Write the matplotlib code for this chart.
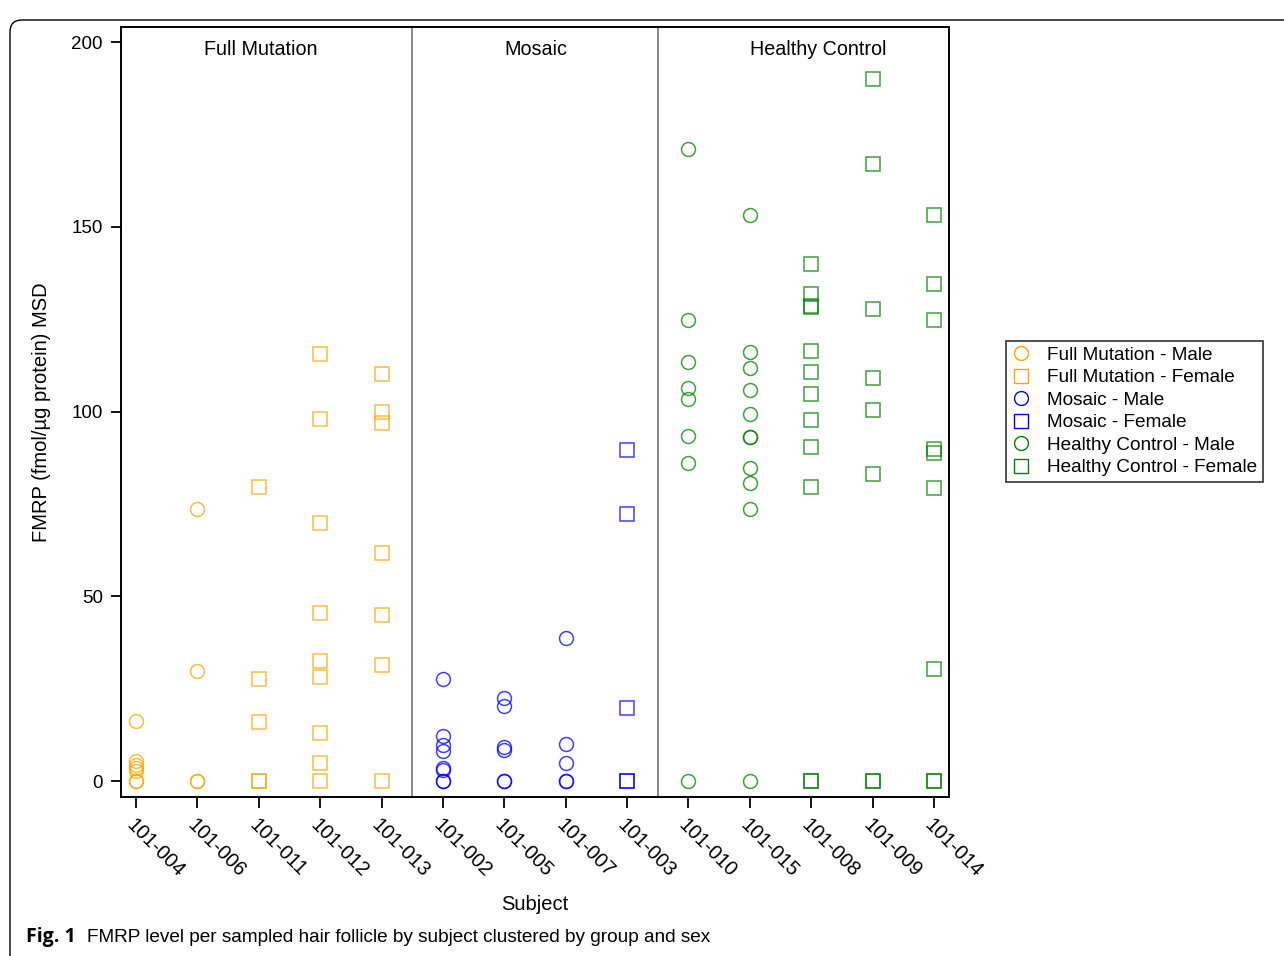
import matplotlib

matplotlib.use("Agg", force=True)
import matplotlib.pyplot as plt
from matplotlib.lines import Line2D
from matplotlib.patches import FancyBboxPatch
from matplotlib.transforms import IdentityTransform

plt.rcParams["font.family"] = ["Liberation Sans", "DejaVu Sans"]

subjects = ["101-004", "101-006", "101-011", "101-012", "101-013",
            "101-002", "101-005", "101-007", "101-003",
            "101-010", "101-015", "101-008", "101-009", "101-014"]
groups = ["Full Mutation", "Mosaic", "Healthy Control"]
group_sizes = [5, 4, 5]

# per-follicle FMRP values, keyed by subject
fm_male = {
    "101-004": [16.3, 5.4, 4.2, 3.4, 2.6, 0, 0],
    "101-006": [73.6, 29.8, 0, 0],
}
fm_female = {
    "101-011": [79.6, 27.6, 16.0, 0, 0],
    "101-012": [115.6, 98.0, 69.8, 45.6, 32.6, 28.1, 12.9, 5.0, 0],
    "101-013": [110.3, 99.8, 96.8, 61.6, 44.9, 31.3, 0],
}
mos_male = {
    "101-002": [27.7, 12.3, 9.7, 8.1, 3.6, 3.0, 0, 0],
    "101-005": [22.5, 20.3, 9.1, 8.4, 0, 0],
    "101-007": [38.6, 10.0, 4.8, 0, 0],
}
mos_female = {
    "101-003": [89.5, 72.3, 19.7, 0, 0],
}
hc_male = {
    "101-010": [171.0, 124.8, 113.5, 106.3, 103.4, 93.4, 86.1, 0],
    "101-015": [153.2, 116.2, 111.7, 105.8, 99.4, 93.2, 93.0, 84.8, 80.6, 73.5, 0],
}
hc_female = {
    "101-008": [140.0, 131.8, 128.6, 128.2, 116.5, 110.7, 104.8, 97.6, 90.3, 79.6, 0, 0],
    "101-009": [190.0, 167.0, 127.8, 109.1, 100.3, 83.1, 0, 0],
    "101-014": [153.2, 134.5, 124.9, 90.0, 88.7, 79.4, 30.3, 0, 0],
}

series = [
    ("Full Mutation - Male", fm_male, "o", "#FFA500"),
    ("Full Mutation - Female", fm_female, "s", "#FFA500"),
    ("Mosaic - Male", mos_male, "o", "#0000FF"),
    ("Mosaic - Female", mos_female, "s", "#0000FF"),
    ("Healthy Control - Male", hc_male, "o", "#008000"),
    ("Healthy Control - Female", hc_female, "s", "#008000"),
]

W, H = 1284, 956
fig = plt.figure(figsize=(W / 100, H / 100), dpi=100)
ax = fig.add_axes([121 / W, 1 - 797 / H, (949 - 121) / W, (797 - 27) / H])

handles = []
for label, data, marker, color in series:
    for subj, vals in data.items():
        x = [subjects.index(subj)] * len(vals)
        ax.plot(x, vals, linestyle="none", marker=marker, markersize=10 if marker == "o" else 10.5,
                markerfacecolor="none", markeredgecolor=color, markeredgewidth=1.1, alpha=0.75)
    handles.append(Line2D([], [], linestyle="none", marker=marker, markersize=10,
                          markerfacecolor="none", markeredgecolor=color, markeredgewidth=1.0,
                          label=label))

n = len(subjects)
ax.set_xlim(-0.244, n - 1 + 0.244)
ax.set_ylim(-4.33, 204.1)

# group dividers and labels (label placement offsets as in the original figure)
label_x = [2.03, 6.52, 11.12]
start = 0
for g, size, lx in zip(groups, group_sizes, label_x):
    ax.text(lx, 198, g, ha="center", va="center", fontsize=14.2)
    start += size
    if start < n:
        ax.axvline(start - 0.5, color="#808080", linewidth=1.3)

ax.set_xticks(range(n))
ax.set_xticklabels(subjects, rotation=-45, ha="left", va="top", rotation_mode="anchor", fontsize=14.5)
ax.tick_params(axis="x", length=8, width=1.3, pad=5)
ax.set_yticks([0, 50, 100, 150, 200])
ax.tick_params(axis="y", length=7, width=1.3, labelsize=13.5, pad=6)
for s in ax.spines.values():
    s.set_linewidth(1.4)

ax.set_ylabel("FMRP (fmol/\u00b5g protein) MSD", fontsize=14.5, labelpad=15)
fig.text(535 / W, 1 - 905 / H, "Subject", ha="center", va="center", fontsize=14.5)

leg = fig.legend(handles=handles, loc="upper left", bbox_to_anchor=(1006 / W, 1 - 341 / H),
                 fontsize=13.7, frameon=True, fancybox=False, edgecolor="black",
                 handlelength=1.0, handletextpad=0.85, labelspacing=0.27, borderpad=0.3,
                 borderaxespad=0)
leg.get_frame().set_linewidth(1.2)

# caption
fig.text(26 / W, 1 - 937 / H, "Fig. 1", ha="left", va="center", fontsize=14, fontweight="bold",
         family=["Open Sans", "DejaVu Sans"])
fig.text(87 / W, 1 - 937 / H, "FMRP level per sampled hair follicle by subject clustered by group and sex",
         ha="left", va="center", fontsize=13.7)

# rounded page frame
frame = FancyBboxPatch((10, -20), 1300, H - 10 + 20 - 10, boxstyle="round,pad=0,rounding_size=12",
                       transform=IdentityTransform(), facecolor="none", edgecolor="black",
                       linewidth=1.0, clip_on=False)
fig.patches.append(frame)

fig.savefig("out.png", dpi=100)
